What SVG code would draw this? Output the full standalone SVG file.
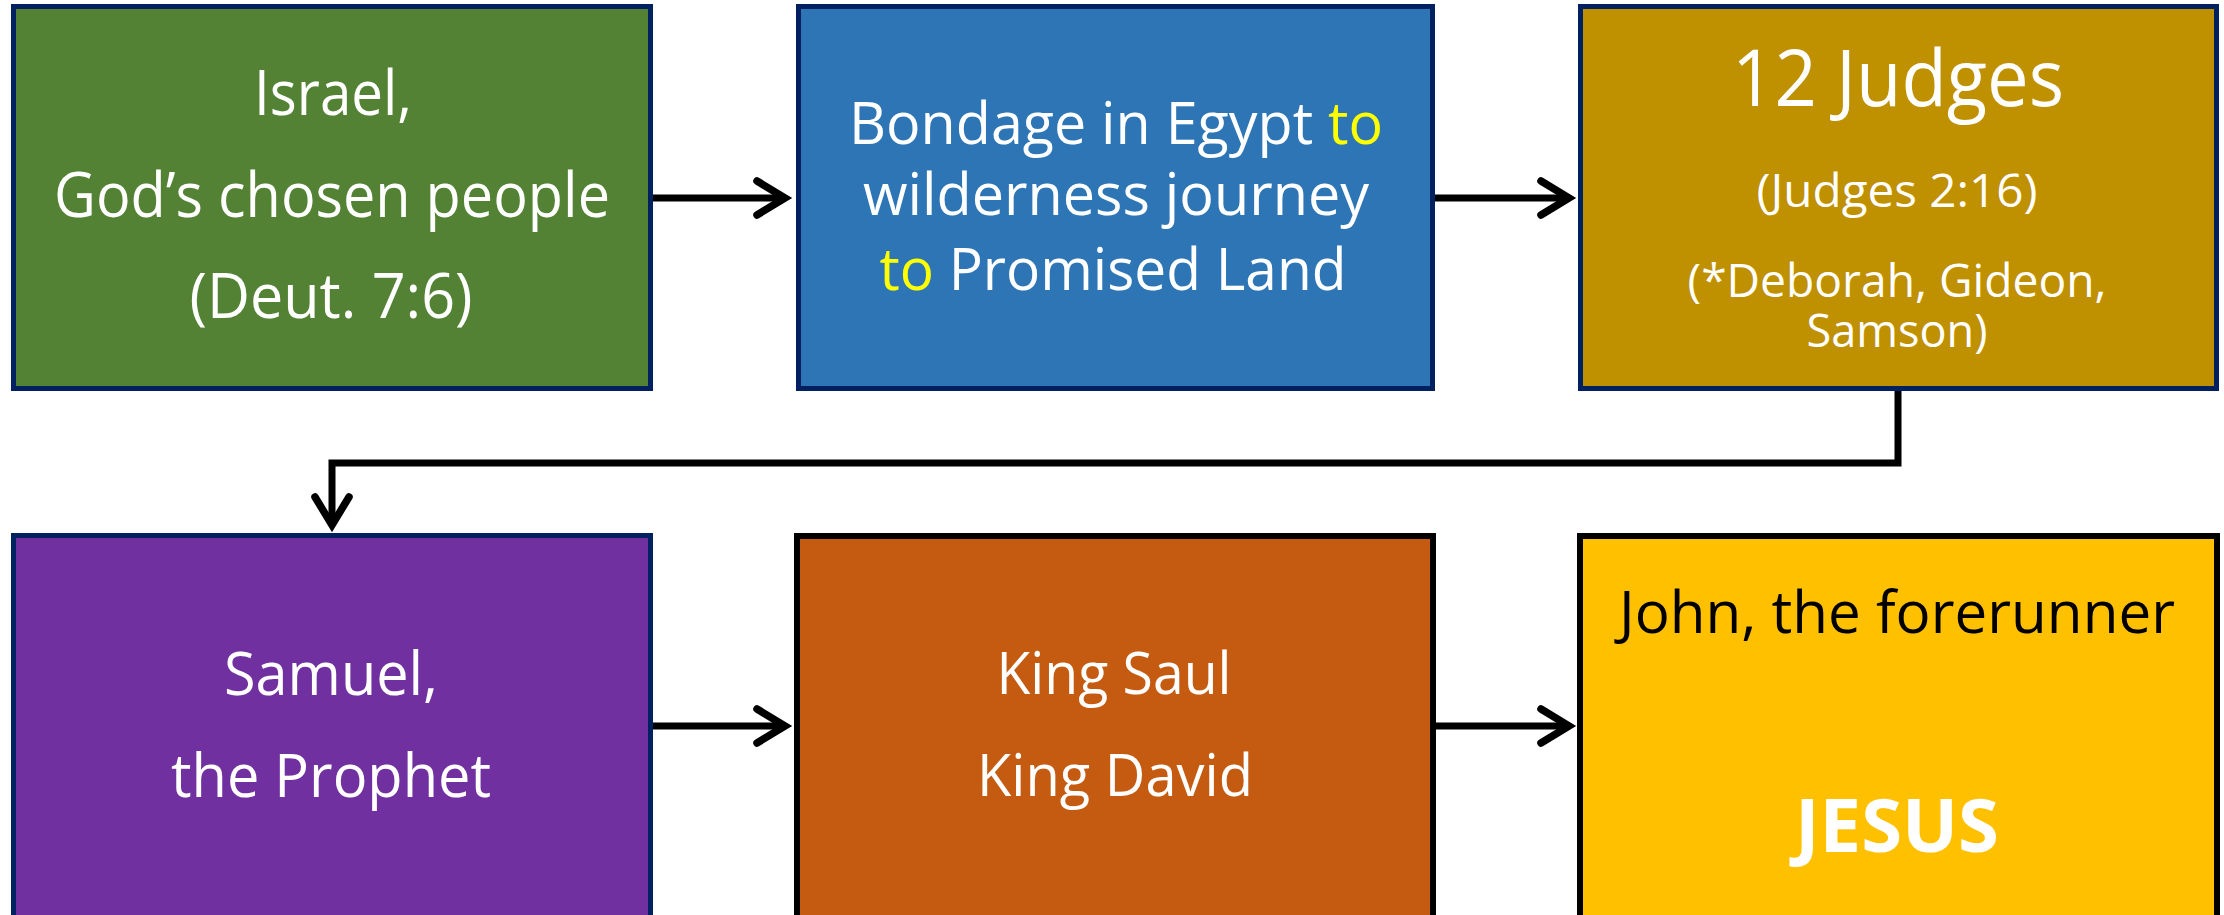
<svg xmlns="http://www.w3.org/2000/svg" width="2224" height="915" viewBox="0 0 2224 915">
<style>
  .t { font-family: "Open Sans", "Noto Sans", "DejaVu Sans", sans-serif; fill: #ffffff; text-anchor: middle; }
  .navy { stroke: #002060; stroke-width: 5; }
  .blk { stroke: #000000; stroke-width: 6; }
  .hl { fill: #ffff00; }
  .conn { fill: none; stroke: #000000; stroke-width: 7; marker-end: url(#ah); }
</style>
<defs>
  <marker id="ah" markerUnits="userSpaceOnUse" markerWidth="60" markerHeight="60" viewBox="-40 -30 60 60" refX="0" refY="0" orient="auto" overflow="visible">
    <path d="M-28,-17 L0,0 L-28,17" fill="none" stroke="#000000" stroke-width="7.5" stroke-linecap="round" stroke-linejoin="miter"/>
  </marker>
</defs>
<rect width="2224" height="915" fill="#ffffff"/>

<g id="connectors">
  <path class="conn" d="M653,198 H785"/>
  <path class="conn" d="M1435,198 H1569"/>
  <path class="conn" d="M1898,391 V463 H332 V525"/>
  <path class="conn" d="M653,726 H785"/>
  <path class="conn" d="M1435,726 H1569"/>
</g>

<g id="node-israel">
  <rect class="navy" x="13.5" y="6.5" width="637" height="382" fill="#548235"/>
  <text class="t" x="333" y="115" font-size="62" textLength="158" lengthAdjust="spacingAndGlyphs">Israel,</text>
  <text class="t" x="332" y="217" font-size="62" textLength="556" lengthAdjust="spacingAndGlyphs">God’s chosen people</text>
  <text class="t" x="331" y="318" font-size="62" textLength="283" lengthAdjust="spacingAndGlyphs">(Deut. 7:6)</text>
</g>

<g id="node-bondage">
  <rect class="navy" x="798.5" y="6.5" width="634" height="382" fill="#2e75b6"/>
  <text class="t" x="1116" y="144" font-size="59" textLength="534" lengthAdjust="spacingAndGlyphs">Bondage in Egypt <tspan class="hl">to</tspan></text>
  <text class="t" x="1116" y="215" font-size="59" textLength="506" lengthAdjust="spacingAndGlyphs">wilderness journey</text>
  <text class="t" x="1113" y="290" font-size="59" textLength="467" lengthAdjust="spacingAndGlyphs"><tspan class="hl">to</tspan> Promised Land</text>
</g>

<g id="node-judges">
  <rect class="navy" x="1580.5" y="6.5" width="636" height="382" fill="#bf9000"/>
  <text class="t" x="1898" y="106" font-size="79" textLength="332" lengthAdjust="spacingAndGlyphs">12 Judges</text>
  <text class="t" x="1897" y="207" font-size="45" textLength="281" lengthAdjust="spacingAndGlyphs">(Judges 2:16)</text>
  <text class="t" x="1897" y="297" font-size="45" textLength="419" lengthAdjust="spacingAndGlyphs">(*Deborah, Gideon,</text>
  <text class="t" x="1897" y="347" font-size="45" textLength="181" lengthAdjust="spacingAndGlyphs">Samson)</text>
</g>

<g id="node-samuel">
  <rect class="navy" x="13.5" y="535.5" width="637" height="400" fill="#7030a0"/>
  <text class="t" x="331" y="695" font-size="60" textLength="214" lengthAdjust="spacingAndGlyphs">Samuel,</text>
  <text class="t" x="331" y="797" font-size="60" textLength="320" lengthAdjust="spacingAndGlyphs">the Prophet</text>
</g>

<g id="node-kings">
  <rect class="blk" x="797" y="536" width="636" height="400" fill="#c55a11"/>
  <text class="t" x="1114" y="694" font-size="59" textLength="235" lengthAdjust="spacingAndGlyphs">King Saul</text>
  <text class="t" x="1115" y="796" font-size="59" textLength="276" lengthAdjust="spacingAndGlyphs">King David</text>
</g>

<g id="node-jesus">
  <rect class="blk" x="1580" y="536" width="637" height="400" fill="#ffc000"/>
  <text class="t" x="1897" y="633" font-size="59" style="fill:#000000" textLength="556" lengthAdjust="spacingAndGlyphs">John, the forerunner</text>
  <text class="t" x="1897" y="852" font-size="74" font-weight="bold" textLength="204" lengthAdjust="spacingAndGlyphs">JESUS</text>
</g>
</svg>
